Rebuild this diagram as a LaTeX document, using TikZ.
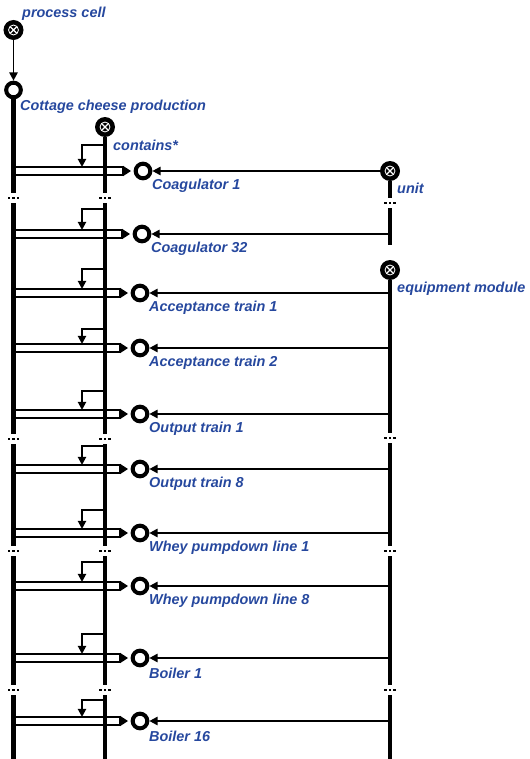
\documentclass[tikz,border=0pt]{standalone}
\usepackage{fontspec}
\setmainfont{Liberation Sans}
\usepackage{tikz}
\usetikzlibrary{arrows.meta,calc,positioning}
\usepackage{xcolor}
\definecolor{labelBlue}{RGB}{38,72,158}
\tikzset{
    barLine/.style={
        line width=0.14cm,
        line cap=butt
    },
    linkArrow/.style={
        -{Triangle[length=7pt,width=7pt]},
        line width=1.6pt
    },
    roleCircle/.style={
        circle,
        draw,
        fill=white,
        line width=0.12cm,
        minimum size=0.44cm,
        inner sep=0pt
    },
    classCircle/.style={
        circle,
        fill=black,
        minimum size=0.6cm,
        inner sep=0pt,
        path picture={
            \draw[white, line width=0.7pt] (path picture bounding box.center) circle (0.15cm);
            \draw[white, line width=1.1pt]
                ($(path picture bounding box.center)+(-0.1cm,-0.1cm)$) -- ++(0.2cm,0.2cm)
                ($(path picture bounding box.center)+(-0.1cm,0.1cm)$) -- ++(0.2cm,-0.2cm);
        }
    },
    nameLabel/.style={
        font=\fontsize{12.3}{14}\selectfont\bfseries\itshape,
        text=labelBlue,
        inner sep=0pt,
        anchor=west
    },
}
% break in a bar, with three dots
\newcommand{\barGap}[1]{%
    \fill[white] ($(#1)+(-8,-5)$) rectangle ($(#1)+(8,5)$);
    \foreach \dx in {-4.5,0,4.5} {\fill ($(#1)+(\dx-1.4,-1.4)$) rectangle ($(#1)+(\dx+1.4,1.4)$);}
}

\begin{document}
\begin{tikzpicture}[x=0.03cm, y=-0.03cm]
    \useasboundingbox (0,0) rectangle (529,759);

    % Rows: links into each role
    \foreach \i/\y/\ty/\cx/\name in {
        1/171/145/143/Coagulator 1,
        2/234/209/142/Coagulator 32,
        3/293/269/140/Acceptance train 1,
        4/348/329/140/Acceptance train 2,
        5/414/391/140/Output train 1,
        6/469/446/140/Output train 8,
        7/533/510/140/Whey pumpdown line 1,
        8/586/562/140/Whey pumpdown line 8,
        9/658/634/140/Boiler 1,
        10/721/700/140/Boiler 16}{
        \node[roleCircle] (c\i) at (\cx,\y) {};
        \node[nameLabel] (t\i) at ($(c\i)+(9,15)$) {\name};
        \coordinate (l\i) at (13,\y);
        \coordinate (s\i) at (105,\ty);
        \coordinate (b\i) at (82,\y-4);
        \coordinate (e\i) at (390,\y);
        \draw[fill=white, line width=1.3pt] ($(l\i)+(0,-3.8)$) rectangle ($(c\i)+(-20,3.8)$);
        \fill ($(c\i)+(-20,-5.2)$) -- ($(c\i)+(-12,0)$) -- ($(c\i)+(-20,5.2)$) -- cycle;
        \draw[linkArrow] (s\i) -| (b\i);
        \draw[linkArrow] (e\i) -- (c\i);
    }

    % Classes and the top role
    \node[classCircle] (pcell) at (13.5,30) {};
    \node[nameLabel] (pcellTxt) at (22,14) {process cell};
    \node[roleCircle] (cottage) at (13.5,90) {};
    \node[nameLabel] (cottageTxt) at (20,107) {Cottage cheese production};
    \draw[linkArrow] (pcell) -- (cottage);

    \node[classCircle] (contains) at (105,127) {};
    \node[nameLabel] (containsTxt) at (113,145) {contains*};

    \node[classCircle] (unit) at (390,171) {};
    \node[nameLabel] (unitTxt) at (397,188) {unit};

    \node[classCircle] (equip) at (390,270) {};
    \node[nameLabel] (equipTxt) at (397,289) {equipment module};

    % Bars
    \coordinate (cottageEnd) at (13.5,759);
    \coordinate (containsEnd) at (105,759);
    \coordinate (unitEnd) at (390,245);
    \coordinate (equipEnd) at (390,759);
    \draw[barLine] (cottage) -- (cottageEnd);
    \draw[barLine] (contains) -- (containsEnd);
    \draw[barLine] (unit) -- (unitEnd);
    \draw[barLine] (equip) -- (equipEnd);

    % Breaks
    \foreach \g in {{13.5,198},{105,198},{390,203},{13.5,439},{105,439},{390,438},
                    {13.5,551},{105,551},{390,551},{13.5,690},{105,690},{390,690}}{
        \barGap{\g}
    }
\end{tikzpicture}
\end{document}
